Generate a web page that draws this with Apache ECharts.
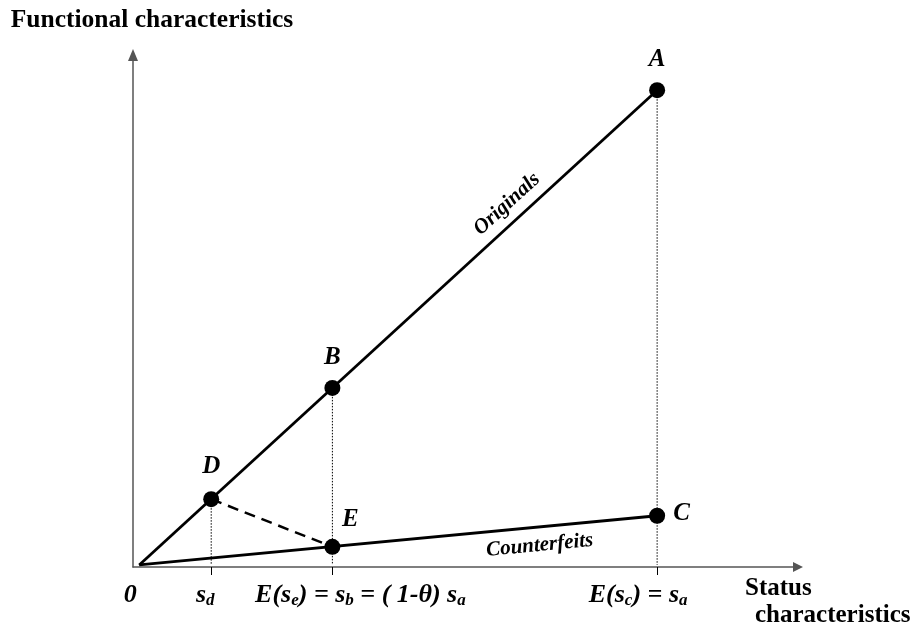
<!DOCTYPE html>
<html>
<head>
<meta charset="utf-8">
<script src="https://cdn.jsdelivr.net/npm/echarts@6/dist/echarts.min.js"></script>
<style>
  html, body { margin: 0; padding: 0; background: #fff; }
  #chart { width: 911px; height: 640px; }
</style>
</head>
<body>
<div id="chart"></div>
<script>
// Status values marked on the horizontal axis: 0, s_d, s_b, s_a
const statusValues = [0, 1.39, 3.73, 10];
// Tick label texts ("_x" marks a subscript), one per status value
const tickLabels = ['0', 's_d', 'E(s_e) = s_b = ( 1-θ) s_a', 'E(s_c) = s_a'];

// Named points: status (x) and functional (y) characteristics
const pointNames = ['A', 'B', 'C', 'D', 'E'];
const pointStatus = [10, 3.73, 10, 1.39, 3.73];
const pointFunction = [9.17, 3.42, 0.95, 1.27, 0.35];

// Rays from the origin
const originalsLine = [[0, 0], [10, 9.17]];
const counterfeitsLine = [[0, 0], [10, 0.95]];

// Points with a dotted drop line to the status axis
const dropPoints = ['A', 'B', 'D'];
// Dashed link between two points
const dashedLink = ['D', 'E'];

const SERIF = '"Liberation Serif", "Times New Roman", Times, serif';
const boldItalic = { fontFamily: SERIF, fontWeight: 'bold', fontStyle: 'italic', color: '#000' };

// Horizontal shift (px) applied to each tick label
const labelShift = [-9, -6, 28, -19];

const pt = name => {
  const i = pointNames.indexOf(name);
  return [pointStatus[i], pointFunction[i]];
};

// Build rich text from a label with "_x" subscripts
const richTick = {
  main: Object.assign({}, boldItalic, { fontSize: 26, lineHeight: 28 }),
  sub: Object.assign({}, boldItalic, { fontSize: 17, lineHeight: 14, verticalAlign: 'bottom' })
};
labelShift.forEach((s, i) => { richTick['pad' + i] = { width: Math.abs(s) * 2, lineHeight: 28 }; });

function tickText(i) {
  const parts = tickLabels[i].split(/_(\w)/);
  let s = '';
  parts.forEach((p, k) => {
    if (!p) return;
    s += (k % 2 ? '{sub|' : '{main|') + p + '}';
  });
  const pad = '{pad' + i + '|}';
  if (labelShift[i] > 0) s = pad + s;
  else if (labelShift[i] < 0) s = s + pad;
  return s;
}

// Point label placement
const pointLabel = {
  A: { position: 'top', distance: 10 },
  B: { position: 'top', distance: 10 },
  C: { position: 'right', distance: 8, offset: [0, -2] },
  D: { position: 'top', distance: 12 },
  E: { position: 'top', distance: 7, offset: [18, 0] }
};

function lerp(line, t) {
  return [line[0][0] + (line[1][0] - line[0][0]) * t, line[0][1] + (line[1][1] - line[0][1]) * t];
}

// Transparent segment whose label runs along the ray
function rayLabel(line, at, text, position, distance) {
  return {
    silent: true,
    symbol: ['none', 'none'],
    animation: false,
    lineStyle: { color: 'rgba(0,0,0,0)', width: 1, type: 'solid' },
    label: Object.assign({}, boldItalic, {
      show: true, position: position, distance: distance, formatter: text, fontSize: 21
    }),
    data: [[{ coord: lerp(line, at - 0.08) }, { coord: lerp(line, at + 0.08) }]]
  };
}

const solid = { color: '#000', width: 2.8 };

const series = [
  {
    name: 'Originals', type: 'line', data: originalsLine, symbol: 'none',
    lineStyle: solid, z: 3,
    markLine: rayLabel(originalsLine, 0.733, 'Originals', 'insideMiddleTop', 7)
  },
  {
    name: 'Counterfeits', type: 'line', data: counterfeitsLine, symbol: 'none',
    lineStyle: solid, z: 3,
    markLine: rayLabel(counterfeitsLine, 0.77, 'Counterfeits', 'insideMiddleBottom', 8)
  },
  {
    type: 'line', data: dashedLink.map(pt), symbol: 'none', z: 2,
    lineStyle: { color: '#000', width: 2.5, type: [11, 7] }
  }
];

dropPoints.forEach(n => {
  const p = pt(n);
  series.push({
    type: 'line', data: [p, [p[0], 0]], symbol: 'none', z: 1,
    lineStyle: { color: '#000', width: 1, type: [1.5, 1.5] }
  });
});

series.push({
  type: 'scatter', symbol: 'circle', symbolSize: 16, z: 5,
  itemStyle: { color: '#000', opacity: 1 },
  data: pointNames.map((n, i) => ({
    name: n,
    value: [pointStatus[i], pointFunction[i]],
    label: Object.assign({ show: true, formatter: n, fontSize: 25 }, boldItalic, pointLabel[n])
  }))
});

const axisLineStyle = { color: '#555', width: 1.5 };

const option = {
  animation: false,
  backgroundColor: '#fff',
  grid: { left: 133, right: 113, top: 55, bottom: 73, containLabel: false, outerBoundsMode: 'none' },
  xAxis: {
    type: 'value', min: -0.12, max: 12.72,
    axisLine: { show: true, onZero: false, lineStyle: axisLineStyle, symbol: ['none', 'triangle'], symbolSize: [10, 10] },
    axisTick: { show: true, customValues: statusValues.slice(1), length: 8, lineStyle: { color: '#000', width: 1 } },
    axisLabel: {
      show: true, customValues: statusValues, margin: 14, hideOverlap: false,
      formatter: v => tickText(statusValues.indexOf(v)),
      rich: richTick
    },
    splitLine: { show: false },
    name: '{a|Status}\n{b|characteristics}',
    nameLocation: 'end', nameGap: -53, nameMoveOverlap: false,
    nameTextStyle: {
      align: 'left', verticalAlign: 'top', padding: [8, 0, 0, 0],
      rich: {
        a: { fontFamily: SERIF, fontWeight: 'bold', fontSize: 25, lineHeight: 27, color: '#000' },
        b: { fontFamily: SERIF, fontWeight: 'bold', fontSize: 25, lineHeight: 27, color: '#000', padding: [0, 0, 0, 10] }
      }
    }
  },
  yAxis: {
    type: 'value', min: -0.04, max: 9.85,
    axisLine: { show: true, onZero: false, lineStyle: axisLineStyle, symbol: ['none', 'triangle'], symbolSize: [10, 12] },
    axisTick: { show: false },
    axisLabel: { show: false },
    splitLine: { show: false },
    name: '{pad|}{t|Functional characteristics}',
    nameLocation: 'end', nameGap: 22, nameMoveOverlap: false,
    nameTextStyle: {
      align: 'center', verticalAlign: 'bottom',
      rich: {
        pad: { width: 38 },
        t: { fontFamily: SERIF, fontWeight: 'bold', fontSize: 25.5, color: '#000' }
      }
    }
  },
  series: series
};

const chart = echarts.init(document.getElementById('chart'), null, { renderer: 'canvas' });
chart.setOption(option);
</script>
</body>
</html>
